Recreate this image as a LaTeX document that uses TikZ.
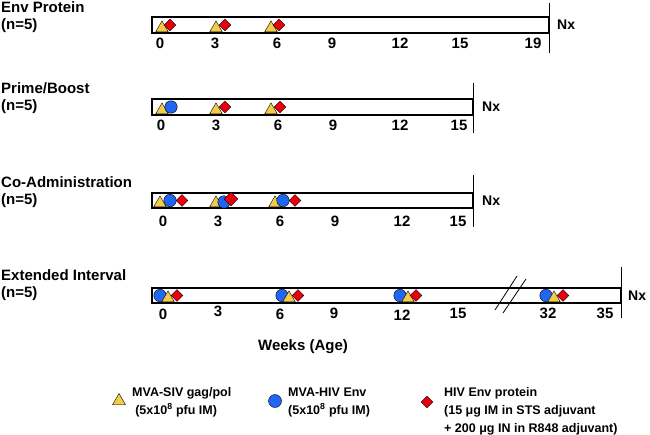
\documentclass[tikz,border=0pt]{standalone}
\usepackage{fontspec}
\setmainfont{Liberation Sans}
\usepackage{tikz}
\usetikzlibrary{shapes.geometric}
\definecolor{mvayellow}{HTML}{F2CC4A}
\definecolor{mvablue}{HTML}{1F66F2}
\definecolor{envred}{HTML}{E8000B}

\begin{document}
\begin{tikzpicture}[x=1pt, y=-1pt, font=\fontsize{15}{17}\selectfont\bfseries,
  bar/.style={draw, line width=2pt},
  nxline/.style={line width=0.8pt},
  title/.style={anchor=base west, inner sep=0pt},
  tick/.style={anchor=base, inner sep=0pt},
  tri/.style={regular polygon, regular polygon sides=3, draw, line width=0.4pt, fill=mvayellow, inner sep=0pt, minimum size=14.5pt, anchor=south},
  dot/.style={circle, draw, line width=0.4pt, fill=mvablue, inner sep=0pt, minimum size=12.5pt},
  gem/.style={diamond, draw, line width=0.4pt, fill=envred, inner sep=0pt, minimum width=12pt, minimum height=12pt},
  legend/.style={anchor=base west, inner sep=0pt, font=\fontsize{12.5}{15}\selectfont\bfseries}]
  \useasboundingbox (0,0) rectangle (650,434);

  % Env Protein
  \node[title] (t1) at (1,12) {Env Protein};
  \node[title] (n1) at (1,29) {(n=5)};
  \draw[bar] (152,17) rectangle (549,33);
  \coordinate (e1a) at (549,3); \coordinate (e1b) at (549,53);
  \draw[nxline] (e1a) -- (e1b);
  \node[anchor=west, inner sep=0pt, font=\fontsize{14}{16}\selectfont\bfseries] (nx1) at (557,25) {Nx};
  \path (160,48) node[tick] {0} (215,48) node[tick] {3} (277,48) node[tick] {6}
        (332,48) node[tick] {9} (400,48) node[tick] {12} (460,48) node[tick] {15}
        (533,48) node[tick] {19};
  \node[tri] (a1) at (162,32) {}; \node[gem] (p1) at (170,25) {};
  \node[tri] (a2) at (216,32) {}; \node[gem] (p2) at (225,25) {};
  \node[tri] (a3) at (271,32) {}; \node[gem] (p3) at (279,25) {};

  % Prime/Boost
  \node[title] (t2) at (1,93) {Prime/Boost};
  \node[title] (n2) at (1,110) {(n=5)};
  \draw[bar] (152,99) rectangle (473,115);
  \coordinate (e2a) at (473,83); \coordinate (e2b) at (473,133);
  \draw[nxline] (e2a) -- (e2b);
  \node[anchor=west, inner sep=0pt, font=\fontsize{14}{16}\selectfont\bfseries] (nx2) at (482,107) {Nx};
  \path (161,130) node[tick] {0} (216,130) node[tick] {3} (278,130) node[tick] {6}
        (333,130) node[tick] {9} (400,130) node[tick] {12} (459,130) node[tick] {15};
  \node[tri] (b1) at (162,114) {}; \node[dot] (v1) at (171,107) {};
  \node[tri] (b2) at (216,114) {}; \node[gem] (q2) at (225,107) {};
  \node[tri] (b3) at (271,114) {}; \node[gem] (q3) at (280,107) {};

  % Co-Administration
  \node[title] (t3) at (1,187) {Co-Administration};
  \node[title] (n3) at (1,204) {(n=5)};
  \draw[bar] (152,193) rectangle (473,208);
  \coordinate (e3a) at (473,175); \coordinate (e3b) at (473,227);
  \draw[nxline] (e3a) -- (e3b);
  \node[anchor=west, inner sep=0pt, font=\fontsize{14}{16}\selectfont\bfseries] (nx3) at (482,201) {Nx};
  \path (163,226) node[tick] {0} (218,226) node[tick] {3} (280,226) node[tick] {6}
        (335,226) node[tick] {9} (402,226) node[tick] {12} (458,226) node[tick] {15};
  \node[tri] (c1) at (160,207) {}; \node[dot] (w1) at (170,200.5) {}; \node[gem] (r1) at (182,200.5) {};
  \node[tri] (c2) at (216,207) {}; \node[dot] (w2) at (224,202) {};
  \node[gem, minimum width=14pt, minimum height=14pt] (r2) at (231,199) {};
  \node[tri] (c3) at (275,207) {}; \node[dot] (w3) at (283,200.5) {}; \node[gem] (r3) at (295,200.5) {};

  % Extended Interval
  \node[title] (t4) at (1,280) {Extended Interval};
  \node[title] (n4) at (1,297) {(n=5)};
  \draw[bar] (152,288) rectangle (621,303);
  \coordinate (e4a) at (621,267); \coordinate (e4b) at (621,318);
  \draw[nxline] (e4a) -- (e4b);
  \node[anchor=west, inner sep=0pt, font=\fontsize{14}{16}\selectfont\bfseries] (nx4) at (628,296) {Nx};
  \coordinate (k1a) at (495,310); \coordinate (k1b) at (517,276);
  \coordinate (k2a) at (503,313); \coordinate (k2b) at (526,279);
  \draw[nxline] (k1a) -- (k1b);
  \draw[nxline] (k2a) -- (k2b);
  \path (163,319) node[tick] {0} (218,316) node[tick] {3} (280,319) node[tick] {6}
        (334,318) node[tick] {9} (402,320) node[tick] {12} (458,318) node[tick] {15}
        (548,318) node[tick] {32} (605,318) node[tick] {35};
  \node[dot] (x1) at (160,295.5) {}; \node[tri] (d1) at (168,302) {}; \node[gem] (s1) at (177,295.5) {};
  \node[dot] (x2) at (282,295.5) {}; \node[tri] (d2) at (289,302) {}; \node[gem] (s2) at (298,295.5) {};
  \node[dot] (x3) at (400,295.5) {}; \node[tri] (d3) at (408,302) {}; \node[gem] (s3) at (416,295.5) {};
  \node[dot] (x4) at (546,295.5) {}; \node[tri] (d4) at (554,302) {}; \node[gem] (s4) at (563,295.5) {};

  \node[anchor=base, inner sep=0pt] (weeks) at (303,350) {Weeks (Age)};

  % legend
  \node[tri, anchor=center, minimum size=15pt] (ktri) at (119,401) {};
  \node[legend] (l1a) at (132,396) {MVA-SIV gag/pol};
  \node[legend] (l1b) at (133,414) {\,(5x10\textsuperscript{8} pfu IM)};
  \node[dot, minimum size=13pt] (kdot) at (275,401) {};
  \node[legend] (l2a) at (288,396) {MVA-HIV Env};
  \node[legend] (l2b) at (288,414) {(5x10\textsuperscript{8} pfu IM)};
  \node[gem] (kgem) at (427,402) {};
  \node[legend] (l3a) at (444,396) {HIV Env protein};
  \node[legend] (l3b) at (444,414) {(15 μg IM in STS adjuvant};
  \node[legend] (l3c) at (444,432) {+ 200 μg IN in R848 adjuvant)};
\end{tikzpicture}
\end{document}
